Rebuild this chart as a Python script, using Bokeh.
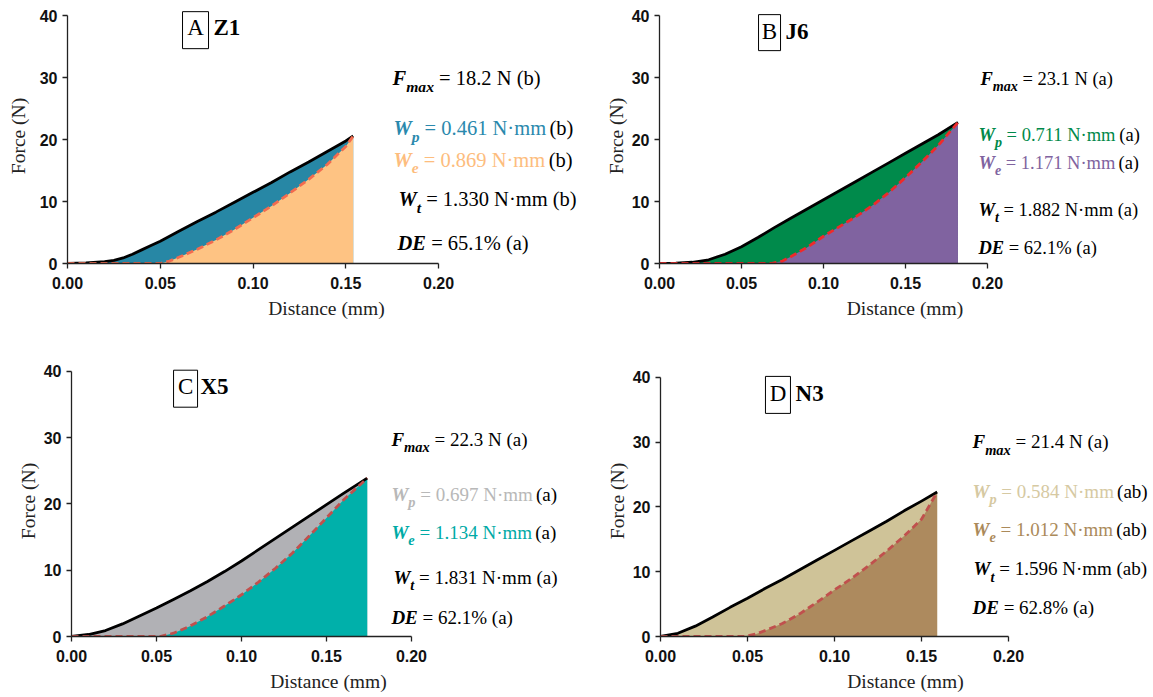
from bokeh.plotting import figure
from bokeh.layouts import column, row
from bokeh.models import Range1d, FixedTicker, PrintfTickFormatter
from bokeh.core.properties import value
from bokeh.embed import file_html
from bokeh.resources import INLINE

# ---------------- data ----------------
X_TICKS = [0.0, 0.05, 0.10, 0.15, 0.20]
Y_TICKS = [0, 10, 20, 30, 40]
X_LABEL = "Distance (mm)"
Y_LABEL = "Force (N)"

A_load_x = [0, 0.01, 0.02, 0.025, 0.03, 0.035, 0.04, 0.045, 0.05, 0.06, 0.07, 0.08, 0.09, 0.10, 0.11, 0.12, 0.13, 0.14, 0.15, 0.154]
A_load_f = [0, 0.1, 0.3, 0.5, 0.9, 1.5, 2.2, 2.9, 3.6, 5.2, 6.8, 8.3, 9.9, 11.5, 13.1, 14.8, 16.4, 18.1, 19.8, 20.6]
A_unload_x = [0, 0.05, 0.055, 0.06, 0.07, 0.08, 0.09, 0.10, 0.11, 0.12, 0.13, 0.14, 0.15, 0.154]
A_unload_f = [0, 0, 0.4, 1.0, 2.3, 3.8, 5.5, 7.4, 9.3, 11.4, 13.6, 16.0, 18.9, 20.6]

B_load_x = [0, 0.01, 0.02, 0.03, 0.04, 0.05, 0.06, 0.07, 0.08, 0.09, 0.10, 0.11, 0.12, 0.13, 0.14, 0.15, 0.16, 0.17, 0.182]
B_load_f = [0, 0.05, 0.2, 0.6, 1.5, 2.7, 4.2, 5.8, 7.3, 8.8, 10.3, 11.8, 13.3, 14.8, 16.3, 17.8, 19.3, 20.8, 22.8]
B_unload_x = [0, 0.068, 0.075, 0.08, 0.09, 0.10, 0.11, 0.12, 0.13, 0.14, 0.15, 0.16, 0.17, 0.182]
B_unload_f = [0, 0, 0.4, 1.1, 2.6, 4.4, 6.0, 7.6, 9.4, 11.5, 13.9, 16.4, 19.1, 22.8]

C_load_x = [0, 0.01, 0.02, 0.03, 0.04, 0.05, 0.06, 0.07, 0.08, 0.09, 0.10, 0.11, 0.12, 0.13, 0.14, 0.15, 0.16, 0.174]
C_load_f = [0, 0.3, 0.9, 1.9, 3.1, 4.3, 5.6, 6.9, 8.3, 9.8, 11.4, 13.1, 14.8, 16.5, 18.2, 19.9, 21.6, 23.9]
C_unload_x = [0, 0.052, 0.06, 0.07, 0.08, 0.09, 0.10, 0.11, 0.12, 0.13, 0.14, 0.15, 0.16, 0.174]
C_unload_f = [0, 0, 0.5, 1.6, 3.0, 4.6, 6.3, 8.2, 10.3, 12.6, 15.2, 17.9, 20.6, 23.9]

D_load_x = [0, 0.01, 0.02, 0.03, 0.04, 0.05, 0.06, 0.07, 0.08, 0.09, 0.10, 0.11, 0.12, 0.13, 0.14, 0.15, 0.159]
D_load_f = [0, 0.5, 1.6, 3.0, 4.5, 5.9, 7.4, 8.8, 10.3, 11.8, 13.3, 14.8, 16.3, 17.8, 19.4, 20.9, 22.3]
D_unload_x = [0, 0.048, 0.055, 0.06, 0.07, 0.08, 0.09, 0.10, 0.11, 0.12, 0.13, 0.14, 0.15, 0.159]
D_unload_f = [0, 0, 0.4, 0.9, 2.0, 3.5, 5.3, 7.2, 9.0, 11.0, 13.2, 15.5, 18.1, 22.3]

A_letter, A_name = "A", "Z1"
B_letter, B_name = "B", "J6"
C_letter, C_name = "C", "X5"
D_letter, D_name = "D", "N3"

A_stats = ["18.2 N (b)", "0.461 N·mm", "(b)", "0.869 N·mm", "(b)", "1.330 N·mm (b)", "65.1% (a)"]
B_stats = ["23.1 N (a)", "0.711 N·mm", "(a)", "1.171 N·mm", "(a)", "1.882 N·mm (a)", "62.1% (a)"]
C_stats = ["22.3 N (a)", "0.697 N·mm", "(a)", "1.134 N·mm", "(a)", "1.831 N·mm (a)", "62.1% (a)"]
D_stats = ["21.4 N (a)", "0.584 N·mm", "(ab)", "1.012 N·mm", "(ab)", "1.596 N·mm (ab)", "62.8% (a)"]

# ---------------- styling ----------------
SERIF = "Liberation Serif"
SANS = "Liberation Sans"
BASE_SHIFT = -0.42  # em, baseline correction for the rendered text

REG = dict.fromkeys("0123456789", 500)
REG.update({" ": 250, ".": 250, "=": 564, "N": 722, "m": 778, "(": 333, ")": 333,
            "a": 444, "b": 500, "%": 833, "·": 250})
BI = {"F": 667, "W": 889, "D": 722, "E": 667, "m": 778, "a": 500, "x": 500,
      "p": 500, "e": 444, "t": 278, " ": 250}


def rich(p, x, y, parts, size):
    off = 0.0
    for txt, style, color, sub in parts:
        s = size * 0.76 if sub else size
        metrics = BI if "italic" in style else REG
        lead = len(txt) - len(txt.lstrip(" "))
        off += lead * 0.25 * s
        t = txt.strip(" ")
        dy = BASE_SHIFT * size + (0.30 * size if sub else 0) - (BASE_SHIFT * (size - s) if sub else 0)
        p.text(x=[x], y=[y], text=[t], x_offset=off, y_offset=dy,
               text_font=value(SERIF), text_font_size=f"{s:.1f}px",
               text_font_style=style, text_color=color,
               text_baseline="alphabetic", text_align="left")
        off += sum(metrics.get(c, 500) for c in t) / 1000 * s


def make_fig(w, h, bl, br, bt, bb, xend, yend, ylab_standoff):
    p = figure(width=w, height=h, x_range=Range1d(0, xend), y_range=Range1d(0, yend),
               output_backend="svg", toolbar_location=None,
               min_border_left=bl, min_border_right=br, min_border_top=bt, min_border_bottom=bb)
    p.xgrid.visible = False
    p.ygrid.visible = False
    p.outline_line_color = None
    p.xaxis.bounds = (0, 0.2)
    p.yaxis.bounds = (0, 40)
    p.xaxis.ticker = FixedTicker(ticks=X_TICKS)
    p.yaxis.ticker = FixedTicker(ticks=Y_TICKS)
    p.xaxis.formatter = PrintfTickFormatter(format="%.2f")
    for ax in (p.xaxis[0], p.yaxis[0]):
        ax.axis_line_color = "#222222"
        ax.axis_line_width = 1.3
        ax.major_tick_line_color = "#222222"
        ax.major_tick_line_width = 1.3
        ax.major_tick_out = 5
        ax.major_tick_in = 0
        ax.minor_tick_line_color = None
        ax.major_label_text_font = SANS
        ax.major_label_text_font_style = "bold"
        ax.major_label_text_font_size = "16px"
        ax.major_label_text_color = "#111111"
        ax.axis_label_text_font = SERIF
        ax.axis_label_text_font_style = "normal"
        ax.axis_label_text_font_size = "19.5px"
        ax.axis_label_text_color = "#222222"
    p.xaxis.major_label_standoff = 8
    p.xaxis.axis_label_standoff = 6
    p.yaxis.major_label_standoff = 5
    p.yaxis.axis_label_standoff = ylab_standoff
    p.xaxis.axis_label = X_LABEL
    p.yaxis.axis_label = Y_LABEL
    return p


def panel(p, lx, lf, ux, uf, c_wp, c_we, c_dash, letter, name, box, stats, tpos, size, t_wp, t_we):
    p.varea(x=lx, y1=[0] * len(lx), y2=lf, fill_color=c_wp)
    p.varea(x=ux, y1=[0] * len(ux), y2=uf, fill_color=c_we)
    p.line(lx, lf, line_color="black", line_width=2.8, line_join="round")
    p.line(ux, uf, line_color=c_dash, line_width=2.8, line_dash="7 4")
    bx, by, bw, bh, nx, ny = box
    p.rect(x=[bx], y=[by], width=[bw], height=[bh], width_units="screen", height_units="screen",
           fill_color=None, line_color="black", line_width=1)
    p.text(x=[bx], y=[ny], text=[letter], text_font=value(SERIF), text_font_size="23px",
           y_offset=BASE_SHIFT * 23,
           text_align="center", text_baseline="alphabetic", text_color="black")
    p.text(x=[nx], y=[ny], text=[name], text_font=value(SERIF), text_font_size="23px",
           y_offset=BASE_SHIFT * 23,
           text_font_style="bold", text_align="left", text_baseline="alphabetic", text_color="black")
    (fx, fy), (wpx, wpy), (wex, wey), (wtx, wty), (dx, dy) = tpos
    k = "black"
    rich(p, fx, fy, [("F", "bold italic", k, False), ("max", "bold italic", k, True),
                     (" = " + stats[0], "normal", k, False)], size)
    rich(p, wpx, wpy, [("W", "bold italic", t_wp, False), ("p", "bold italic", t_wp, True),
                       (" = " + stats[1], "normal", t_wp, False), (" " + stats[2], "normal", k, False)], size)
    rich(p, wex, wey, [("W", "bold italic", t_we, False), ("e", "bold italic", t_we, True),
                       (" = " + stats[3], "normal", t_we, False), (" " + stats[4], "normal", k, False)], size)
    rich(p, wtx, wty, [("W", "bold italic", k, False), ("t", "bold italic", k, True),
                       (" = " + stats[5], "normal", k, False)], size)
    rich(p, dx, dy, [("DE", "bold italic", k, False), (" = " + stats[6], "normal", k, False)], size)


# ---------------- figures ----------------
pA = make_fig(590, 348, 67, 5, 8, 85, 0.2792, 41.2, 8)
panel(pA, A_load_x, A_load_f, A_unload_x, A_unload_f, "#2787a5", "#fec383", "#f26b4f",
      A_letter, A_name, (0.069, 37.7, 26, 37, 0.0787, 36.5), A_stats,
      [(0.1752, 28.6), (0.1757, 20.5), (0.1757, 15.35), (0.1784, 9.05), (0.1779, 1.94)],
      20.5, "#2a89ad", "#fdbd7e")

pB = make_fig(563, 348, 69, 3, 8, 85, 0.2994, 41.2, 2)
panel(pB, B_load_x, B_load_f, B_unload_x, B_unload_f, "#008a4b", "#8063a0", "#ee2a2a",
      B_letter, B_name, (0.0671, 37.3, 22, 36, 0.0768, 36.0), B_stats,
      [(0.1957, 28.6), (0.1945, 19.55), (0.1945, 15.03), (0.1945, 7.43), (0.1945, 1.29)],
      18.5, "#00894a", "#8063a0")

pC = make_fig(590, 349, 71, 5, 17, 61, 0.3024, 40.9, 2)
panel(pC, C_load_x, C_load_f, C_unload_x, C_unload_f, "#b1b1b5", "#00b0aa", "#c0504d",
      C_letter, C_name, (0.0671, 37.4, 24, 37, 0.0759, 36.2), C_stats,
      [(0.1882, 28.5), (0.1882, 20.2), (0.1882, 14.5), (0.1894, 7.7), (0.1882, 1.66)],
      19, "#b8b8b8", "#00aaa6")

pD = make_fig(563, 349, 70, 3, 17, 59, 0.2816, 41.84, 2)
panel(pD, D_load_x, D_load_f, D_unload_x, D_unload_f, "#cfc398", "#ad8a5e", "#c0504d",
      D_letter, D_name, (0.0675, 37.3, 25, 37, 0.0776, 36.1), D_stats,
      [(0.1793, 28.8), (0.1793, 21.15), (0.1793, 15.3), (0.1799, 9.2), (0.1793, 3.2)],
      19, "#d6c9a2", "#ab8a5a")

layout = column(row(pA, pB), row(pC, pD))
open("out.html", "w").write(file_html(layout, INLINE))
